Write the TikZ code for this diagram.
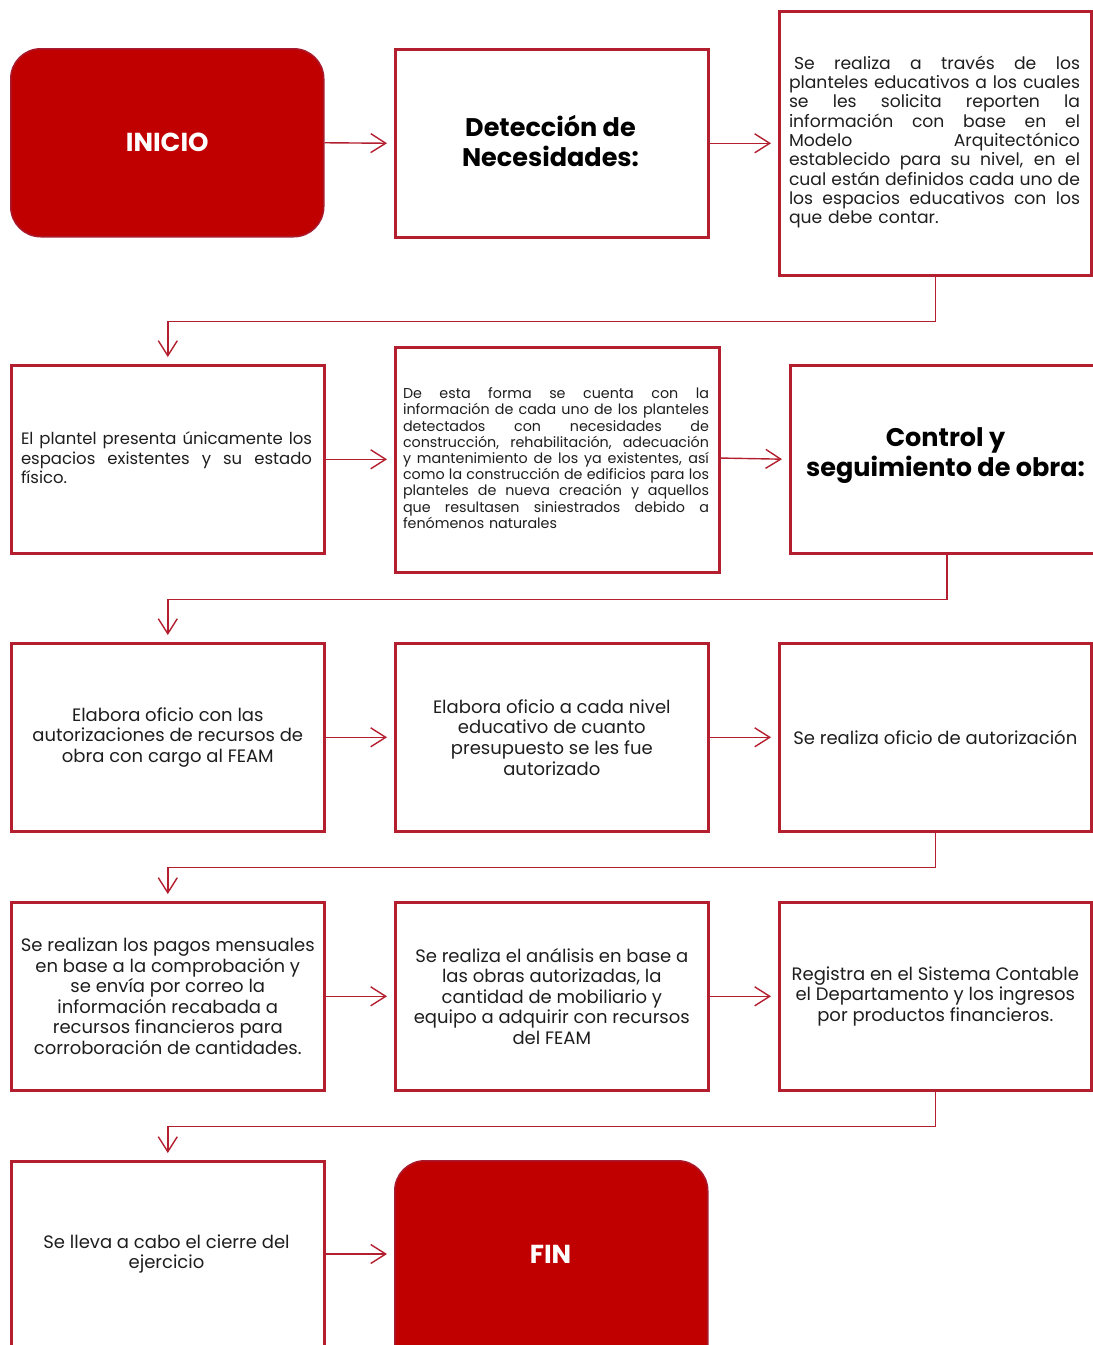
\documentclass[tikz,border=0pt]{standalone}
\usepackage{fontspec}
\setmainfont{Poppins}
\usetikzlibrary{arrows.meta}
\definecolor{bord}{HTML}{B41F30}
\definecolor{redfill}{HTML}{C00000}
\definecolor{redbord}{HTML}{A81A2D}
\definecolor{txt}{HTML}{1E1E1E}
\newlength{\jw}
\newcommand{\jline}[1]{\leavevmode\hbox to\jw{\spaceskip=0.28em plus 1fil\relax #1}}
\tikzset{
  box/.style={draw=bord, line width=2.6pt, fill=white, anchor=north west, inner sep=0pt, text=txt},
  term/.style={draw=redbord, line width=1.5pt, fill=redfill, rounded corners=30pt, anchor=north west, inner sep=0pt, text=white},
  termtext/.style={text=white, font=\fontsize{26}{30}\selectfont\bfseries},
  conn/.style={draw=bord, line width=1.4pt, -{Straight Barb[length=15pt,width=19pt,line width=1.4pt]}, shorten >=7pt},
  title/.style={font=\fontsize{25.5}{30}\selectfont\bfseries, align=center, text=black},
  body/.style={font=\fontsize{18}{20.6}\selectfont, align=center, text=txt},
  jtext/.style={align=left, text=txt, inner sep=0pt},
}
\begin{document}
\begin{tikzpicture}[x=1pt,y=-1pt]
\useasboundingbox (0,0) rectangle (1093,1345);
% row 1
\node[term, minimum width=313pt, minimum height=188pt] (ini) at (10,48) {};
\node[termtext] (initxt) at (ini.center) {INICIO};
\node[box, minimum width=313pt, minimum height=188pt] (det) at (394,48) {};
\node[title] (dettxt) at (550.5,141) {Detección de\\Necesidades:};
\node[box, minimum width=312pt, minimum height=264pt] (b3) at (778,10) {};
\node[jtext, text width=291pt, font=\fontsize{17.2}{19.3}\selectfont] (b3txt) at (934.5,142) {\setlength{\jw}{291pt}%
\jline{\hspace{5pt}Se realiza a través de los}\\
\jline{planteles educativos a los cuales}\\
\jline{se les solicita reporten la}\\
\jline{información con base en el}\\
\jline{Modelo Arquitectónico}\\
\jline{establecido para su nivel, en el}\\
\jline{cual están definidos cada uno de}\\
\jline{los espacios educativos con los}\\
que debe contar.};
% row 2
\node[box, minimum width=313pt, minimum height=188pt] (b4) at (10,364) {};
\node[jtext, text width=291pt, font=\fontsize{16.5}{19.5}\selectfont] (b4txt) at (166.5,458) {\setlength{\jw}{291pt}%
\jline{El plantel presenta únicamente los}\\
\jline{espacios existentes y su estado}\\
físico.};
\node[box, minimum width=324pt, minimum height=225pt] (b5) at (394,346) {};
\node[jtext, text width=306pt, font=\fontsize{14.3}{16.2}\selectfont] (b5txt) at (556,458) {\setlength{\jw}{306pt}%
\jline{De esta forma se cuenta con la}\\
\jline{información de cada uno de los planteles}\\
\jline{detectados con necesidades de}\\
\jline{construcción, rehabilitación, adecuación}\\
\jline{y mantenimiento de los ya existentes, así}\\
\jline{como la construcción de edificios para los}\\
\jline{planteles de nueva creación y aquellos}\\
\jline{que resultasen siniestrados debido a}\\
fenómenos naturales};
\node[box, minimum width=313pt, minimum height=188pt] (b6) at (789,364) {};
\node[title] (b6txt) at (945.5,456) {Control y\\seguimiento de obra:};
% row 3
\node[box, minimum width=313pt, minimum height=188pt] (b7) at (10,642) {};
\node[body] (b7txt) at (b7.center) {Elabora oficio con las\\autorizaciones de recursos de\\obra con cargo al FEAM};
\node[box, minimum width=313pt, minimum height=188pt] (b8) at (394,642) {};
\node[body] (b8txt) at (b8.center) {Elabora oficio a cada nivel\\educativo de cuanto\\presupuesto se les fue\\autorizado};
\node[box, minimum width=312pt, minimum height=188pt] (b9) at (778,642) {};
\node[body] (b9txt) at (b9.center) {Se realiza oficio de autorización};
% row 4
\node[box, minimum width=313pt, minimum height=188pt] (b10) at (10,901) {};
\node[body] (b10txt) at (b10.center) {Se realizan los pagos mensuales\\en base a la comprobación y\\se envía por correo la\\información recabada a\\recursos financieros para\\corroboración de cantidades.};
\node[box, minimum width=313pt, minimum height=188pt] (b11) at (394,901) {};
\node[body] (b11txt) at (b11.center) {Se realiza el análisis en base a\\las obras autorizadas, la\\cantidad de mobiliario y\\equipo a adquirir con recursos\\del FEAM};
\node[box, minimum width=312pt, minimum height=188pt] (b12) at (778,901) {};
\node[body] (b12txt) at (b12.center) {Registra en el Sistema Contable\\el Departamento y los ingresos\\por productos financieros.};
% row 5
\node[box, minimum width=313pt, minimum height=200pt] (b13) at (10,1160) {};
\node[body] (b13txt) at (166.5,1254) {Se lleva a cabo el cierre del\\ejercicio};
\node[term, minimum width=313pt, minimum height=220pt] (fin) at (394,1160) {};
\node[termtext] (fintxt) at (550.5,1254) {FIN};
% connectors
\draw[conn] (ini.east) -- (det.west);
\draw[conn] (det.east) -- (det.east -| b3.west);
\draw[conn] (b3.south) -- ++(0,45) -| (b4.north);
\draw[conn] (b4.east) -- (b4.east -| b5.west);
\coordinate (b5e) at (718,458);
\draw[conn] (b5e) -- (b6.west);
\draw[conn] (b6.south) -- ++(0,45) -| (b7.north);
\draw[conn] (b7.east) -- (b8.west);
\draw[conn] (b8.east) -- (b9.west);
\draw[conn] (b9.south) -- ++(0,35) -| (b10.north);
\draw[conn] (b10.east) -- (b11.west);
\draw[conn] (b11.east) -- (b12.west);
\draw[conn] (b12.south) -- ++(0,35) -| (b13.north);
\coordinate (b13e) at (323,1254);
\draw[conn] (b13e) -- (b13e -| fin.west);
\end{tikzpicture}
\end{document}
